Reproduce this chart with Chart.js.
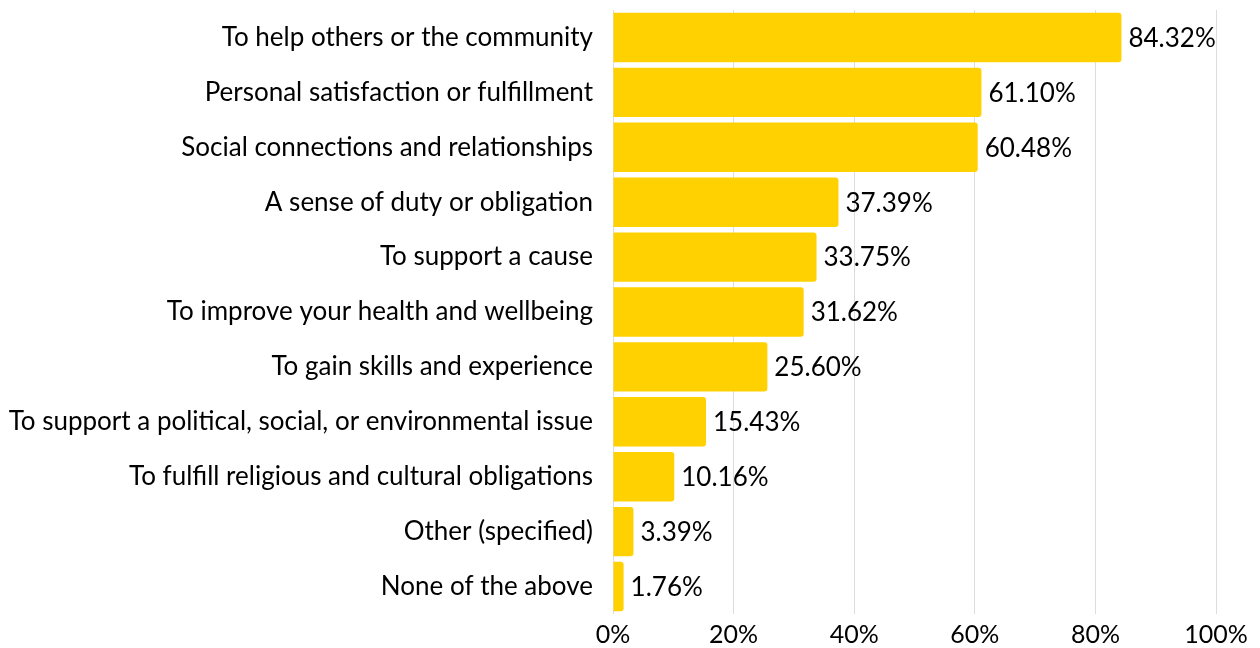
<!DOCTYPE html>
<html>
<head>
<meta charset="utf-8">
<script src="https://cdn.jsdelivr.net/npm/chart.js@4/dist/chart.umd.min.js"></script>
<style>
  html, body { margin: 0; padding: 0; background: #fff; }
  #wrap { width: 1260px; height: 648px; }
</style>
</head>
<body>
<div id="wrap"><canvas id="c" width="1260" height="648"></canvas></div>
<script>
// Reasons given for volunteering (share of respondents, %)
const reasons = [
  "To help others or the community",
  "Personal satisfaction or fulfillment",
  "Social connections and relationships",
  "A sense of duty or obligation",
  "To support a cause",
  "To improve your health and wellbeing",
  "To gain skills and experience",
  "To support a political, social, or environmental issue",
  "To fulfill religious and cultural obligations",
  "Other (specified)",
  "None of the above"
];
const shares = [84.32, 61.10, 60.48, 37.39, 33.75, 31.62, 25.60, 15.43, 10.16, 3.39, 1.76];
const axisTicks = [0, 20, 40, 60, 80, 100];

const FONT = "Lato, 'Open Sans', sans-serif";
const TEXT = "#000";

// Writes each bar's value just past its end
const valueLabels = {
  id: "valueLabels",
  afterDatasetsDraw(chart) {
    const ctx = chart.ctx;
    const meta = chart.getDatasetMeta(0);
    ctx.save();
    ctx.font = "26px " + FONT;
    ctx.fillStyle = TEXT;
    ctx.textAlign = "left";
    ctx.textBaseline = "middle";
    meta.data.forEach((bar, i) => {
      ctx.fillText(shares[i].toFixed(2) + "%", bar.x + 7, bar.y + 1);
    });
    ctx.restore();
  }
};

new Chart(document.getElementById("c"), {
  type: "bar",
  data: {
    labels: reasons,
    datasets: [{
      data: shares,
      backgroundColor: "#FFD100",
      borderRadius: { topRight: 3, bottomRight: 3, topLeft: 0, bottomLeft: 0 },
      borderSkipped: false,
      barPercentage: 0.9,
      categoryPercentage: 1.0
    }]
  },
  options: {
    indexAxis: "y",
    responsive: false,
    animation: false,
    devicePixelRatio: 1,
    layout: { padding: { top: 10, right: 44, left: 0, bottom: 0 } },
    plugins: { legend: { display: false }, tooltip: { enabled: false } },
    scales: {
      x: {
        min: 0,
        max: 100,
        afterBuildTicks(scale) { scale.ticks = axisTicks.map(v => ({ value: v })); },
        afterFit(scale) { scale.height = 34; scale.paddingLeft = 0; scale.paddingRight = 0; },
        border: { display: false },
        grid: { color: "#dcdcdc", lineWidth: 1, drawTicks: false },
        ticks: {
          padding: 6,
          color: TEXT,
          font: { family: FONT, size: 25 },
          callback: v => v + "%"
        }
      },
      y: {
        afterFit(scale) { scale.width = 613; scale.paddingTop = 0; scale.paddingBottom = 0; },
        border: { display: false },
        grid: { display: false, drawTicks: false },
        ticks: {
          padding: 20,
          color: TEXT,
          font: { family: FONT, size: 26 },
          autoSkip: false
        }
      }
    }
  },
  plugins: [valueLabels]
});
</script>
</body>
</html>
